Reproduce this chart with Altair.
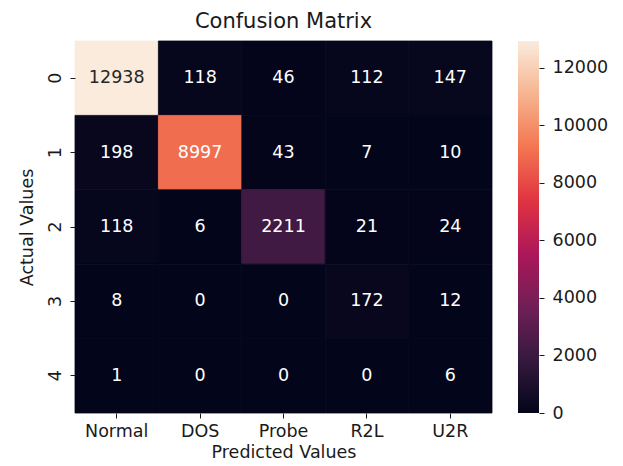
import altair as alt
import pandas as pd

actual = ["0", "1", "2", "3", "4"]
predicted = ["Normal", "DOS", "Probe", "R2L", "U2R"]
row0 = [12938, 118, 46, 112, 147]
row1 = [198, 8997, 43, 7, 10]
row2 = [118, 6, 2211, 21, 24]
row3 = [8, 0, 0, 172, 12]
row4 = [1, 0, 0, 0, 6]
counts = [row0, row1, row2, row3, row4]
cbar_ticks = [0, 2000, 4000, 6000, 8000, 10000, 12000]
vmin, vmax = 0, 12938

rocket = ["#03051a", "#35193e", "#701f57", "#ad1759",
          "#e13342", "#f37651", "#f6b48f", "#faebdd"]

rows = []
for i, a in enumerate(actual):
    for j, p in enumerate(predicted):
        rows.append({"actual": a, "predicted": p, "count": counts[i][j]})
df = pd.DataFrame(rows)

FONT = "DejaVu Sans"
TXT = "#1a1a1a"
W, H = 417, 372

color_domain = [vmin + (vmax - vmin) * k / (len(rocket) - 1) for k in range(len(rocket))]
cscale = alt.Scale(domain=color_domain, range=rocket, interpolate="rgb")

base = alt.Chart(df).encode(
    x=alt.X("predicted:N", sort=predicted,
            scale=alt.Scale(paddingInner=0, paddingOuter=0),
            axis=alt.Axis(title="Predicted Values", labelAngle=0, domain=False, grid=False,
                          tickSize=5, tickColor=TXT, labelPadding=4,
                          titlePadding=4)),
    y=alt.Y("actual:N", sort=actual,
            scale=alt.Scale(paddingInner=0, paddingOuter=0),
            axis=alt.Axis(title="Actual Values", labelAngle=-90, labelAlign="center",
                          labelBaseline="bottom", domain=False, grid=False, tickSize=5,
                          tickColor=TXT, labelPadding=6, titlePadding=10)),
)

cells = base.mark_rect(strokeWidth=0.8).encode(
    color=alt.Color("count:Q", legend=None, scale=cscale),
    stroke=alt.Stroke("count:Q", legend=None, scale=cscale),
)

labels = base.mark_text(font=FONT, fontSize=17.5).encode(
    text=alt.Text("count:Q", format="d"),
    color=alt.condition(alt.datum.count > 10400, alt.value("#262626"), alt.value("white")),
)

heat = (cells + labels).properties(
    width=W, height=H,
    title=alt.TitleParams("Confusion Matrix", fontSize=21, font=FONT,
                          fontWeight="normal", color=TXT, anchor="middle", offset=9),
)

cbar_df = pd.DataFrame({"lo": [vmin], "hi": [vmax]})
grad = alt.Gradient(
    gradient="linear",
    stops=[alt.GradientStop(offset=k / (len(rocket) - 1), color=c) for k, c in enumerate(rocket)],
    x1=0, x2=0, y1=1, y2=0,
)
cbar = alt.Chart(cbar_df).mark_rect(color=grad).encode(
    x=alt.value(0), x2=alt.value(21),
    y=alt.Y("lo:Q", scale=alt.Scale(domain=[vmin, vmax], nice=False, zero=False),
            axis=alt.Axis(orient="right", values=cbar_ticks, title=None, domain=False,
                          grid=False, tickSize=5, tickColor=TXT, labelPadding=8,
                          format="d")),
    y2="hi:Q",
).properties(width=21, height=H)

chart = alt.hconcat(heat, cbar, spacing=25).properties(
    padding={"left": 10, "top": 2, "right": 5, "bottom": 5}
).configure_view(stroke=None).configure_axis(
    labelFont=FONT, titleFont=FONT, labelFontSize=17.5, titleFontSize=17.5,
    labelColor=TXT, titleColor=TXT, titleFontWeight="normal", grid=False
)

chart.save("out.html", embed_options={"renderer": "svg", "actions": False})
